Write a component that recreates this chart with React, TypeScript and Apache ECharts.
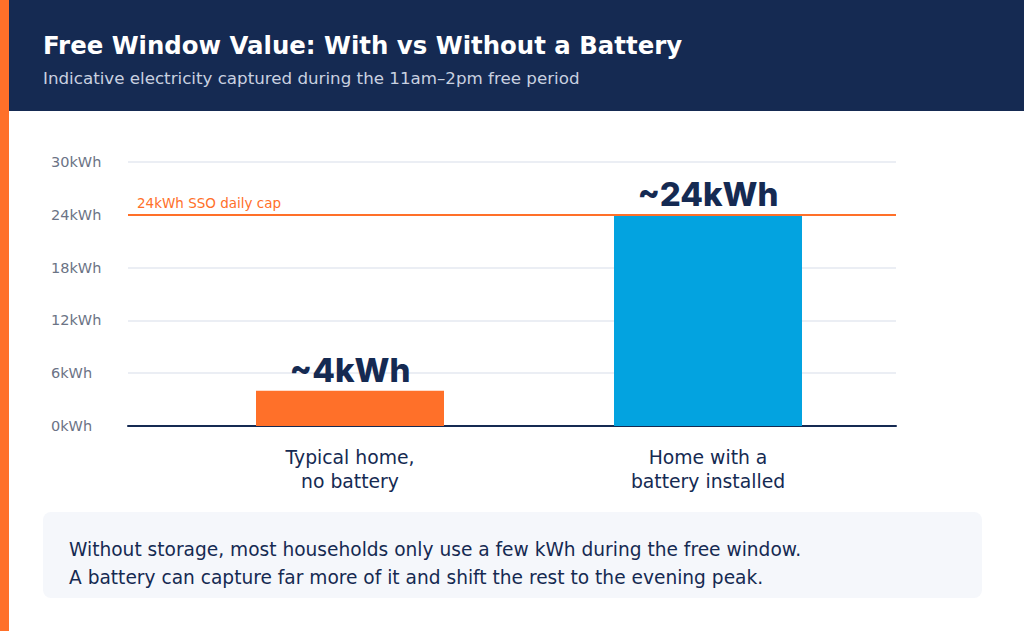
import React, { useEffect, useRef } from "react";
import * as echarts from "echarts";

const categories = ["Typical home,\nno battery", "Home with a\nbattery installed"];
const energyKWh = [4, 24];
const barLabels = ["~4kWh", "~24kWh"];
const barColors = ["#ff7029", "#03a3e0"];
const yTicks = [0, 6, 12, 18, 24, 30];
const capValue = 24;
const capLabel = "24kWh SSO daily cap";
const title = "Free Window Value: With vs Without a Battery";
const subtitle = "Indicative electricity captured during the 11am\u20132pm free period";
const noteLines = [
  "Without storage, most households only use a few kWh during the free window.",
  "A battery can capture far more of it and shift the rest to the evening peak.",
];

const NAVY = "#152a52";
const ORANGE = "#ff7029";
const FONT = "'DejaVu Sans', 'Open Sans', sans-serif";

export default function App() {
  const ref = useRef<HTMLDivElement>(null);

  useEffect(() => {
    if (!ref.current) return;
    const chart = echarts.init(ref.current, undefined, { renderer: "svg" });
    const yMax = yTicks[yTicks.length - 1];
    const yAxisCommon = {
      type: "value" as const,
      min: 0,
      max: yMax,
      interval: 6,
    };
    chart.setOption({
      animation: false,
      backgroundColor: "#ffffff",
      textStyle: { fontFamily: FONT },
      grid: [
        { left: 128, right: 128, top: 162, bottom: 205 },
        { left: 171, right: 137, top: 162, bottom: 205 },
      ],
      xAxis: [
        {
          gridIndex: 0,
          type: "category",
          data: ["", ""],
          axisLine: { show: true, lineStyle: { color: NAVY, width: 2 } },
          axisTick: { show: false },
          axisLabel: { show: false },
        },
        {
          gridIndex: 1,
          type: "category",
          data: categories,
          axisLine: { show: false },
          axisTick: { show: false },
          axisLabel: {
            margin: 19,
            color: NAVY,
            fontSize: 18.8,
            lineHeight: 24,
            fontFamily: FONT,
          },
        },
      ],
      yAxis: [
        {
          ...yAxisCommon,
          gridIndex: 0,
          axisLine: { show: false },
          axisTick: { show: false },
          splitLine: { lineStyle: { color: "#e4e9f1", width: 1.5 } },
          axisLabel: {
            align: "left",
            margin: 77,
            color: "#6b7385",
            fontSize: 14.5,
            fontFamily: FONT,
            formatter: (v: number) => `${v}kWh`,
          },
        },
        {
          ...yAxisCommon,
          gridIndex: 1,
          show: false,
          splitLine: { show: false },
        },
      ],
      series: [
        {
          type: "bar",
          xAxisIndex: 0,
          yAxisIndex: 0,
          data: [],
          markLine: {
            silent: true,
            symbol: "none",
            lineStyle: { color: ORANGE, width: 2, type: "solid" },
            label: {
              position: "insideStartTop",
              formatter: capLabel,
              color: ORANGE,
              fontSize: 13.5,
              fontFamily: FONT,
              distance: [9, 5],
            },
            data: [{ yAxis: capValue }],
          },
        },
        {
          type: "bar",
          xAxisIndex: 1,
          yAxisIndex: 1,
          barWidth: 188,
          z: 3,
          data: energyKWh.map((v, i) => ({
            value: v,
            itemStyle: { color: barColors[i] },
            label: {
              show: true,
              position: "top",
              distance: 4,
              formatter: barLabels[i],
              color: NAVY,
              fontSize: 33,
              fontWeight: 800,
              fontFamily: "Inter, sans-serif",
            },
          })),
        },
      ],
      graphic: [
        {
          type: "rect",
          shape: { x: 0, y: 0, width: 1024, height: 111 },
          style: { fill: NAVY },
          z: -1,
        },
        {
          type: "rect",
          shape: { x: 0, y: 0, width: 9, height: 631 },
          style: { fill: ORANGE },
          z: 10,
        },
        {
          type: "text",
          x: 43,
          y: 45,
          style: {
            text: title,
            fill: "#ffffff",
            font: `bold 24.4px ${FONT}`,
            textVerticalAlign: "middle",
          },
        },
        {
          type: "text",
          x: 43,
          y: 78,
          style: {
            text: subtitle,
            fill: "#c9d1e0",
            font: `16.7px ${FONT}`,
            textVerticalAlign: "middle",
          },
        },
        {
          type: "rect",
          shape: { x: 43, y: 512, width: 939, height: 86, r: 8 },
          style: { fill: "#f5f7fb" },
        },
        ...noteLines.map((line, i) => ({
          type: "text",
          x: 69,
          y: 549 + i * 28,
          style: {
            text: line,
            fill: NAVY,
            font: `18.6px ${FONT}`,
            textVerticalAlign: "middle",
          },
        })),
      ],
    });
    return () => chart.dispose();
  }, []);

  return (
    <div
      ref={ref}
      style={{ position: "fixed", left: 0, top: 0, width: 1024, height: 631 }}
    />
  );
}
